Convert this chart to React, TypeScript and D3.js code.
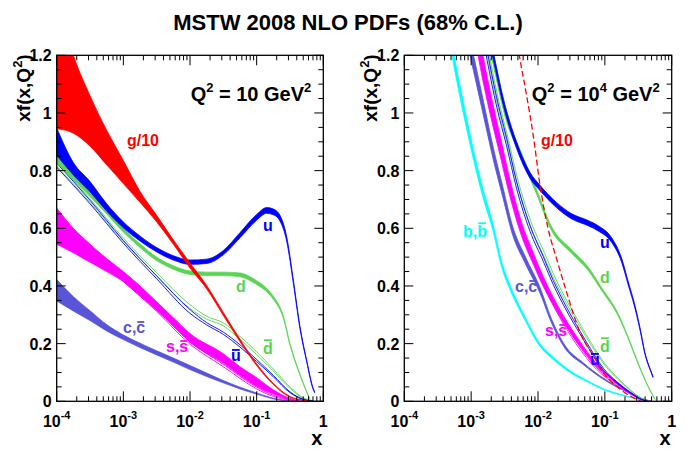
import React from "react";
import * as d3 from "d3";

// ---------------- Q^2 = 10 GeV^2 (left panel) : log10(x), lower, upper ----------------
const gL_lx = [-4, -3.75, -3.5, -3.25, -3, -2.75, -2.5, -2.25, -2, -1.75, -1.5, -1.25, -1, -0.75, -0.5, -0.3, -0.2];
const gL_lo = [0.945, 0.93, 0.885, 0.82, 0.755, 0.69, 0.622, 0.545, 0.462, 0.39, 0.298, 0.207, 0.124, 0.058, 0.014, 0.003, 0];
const gL_hi = [1.4, 1.2, 1.06, 0.94, 0.835, 0.728, 0.645, 0.56, 0.48, 0.402, 0.308, 0.215, 0.13, 0.062, 0.017, 0.004, 0.001];

const uL_lx = [-4, -3.75, -3.5, -3.25, -3, -2.75, -2.5, -2.25, -2, -1.75, -1.5, -1.25, -1, -0.85, -0.75, -0.65, -0.55, -0.45, -0.35, -0.25, -0.15, -0.13];
const uL_lo = [0.853, 0.785, 0.727, 0.66, 0.602, 0.556, 0.518, 0.49, 0.475, 0.478, 0.508, 0.567, 0.628, 0.652, 0.647, 0.625, 0.556, 0.41, 0.252, 0.138, 0.04, 0.03];
const uL_hi = [0.948, 0.828, 0.762, 0.685, 0.622, 0.573, 0.533, 0.505, 0.49, 0.493, 0.523, 0.585, 0.648, 0.672, 0.667, 0.645, 0.572, 0.422, 0.26, 0.143, 0.044, 0.033];

const dL_lx = [-4, -3.75, -3.5, -3.25, -3, -2.75, -2.5, -2.25, -2, -1.75, -1.5, -1.25, -1, -0.85, -0.75, -0.6, -0.5, -0.35, -0.2];
const dL_lo = [0.828, 0.768, 0.71, 0.65, 0.587, 0.533, 0.488, 0.458, 0.44, 0.436, 0.436, 0.432, 0.405, 0.38, 0.354, 0.288, 0.195, 0.09, 0.005];
const dL_hi = [0.855, 0.79, 0.728, 0.665, 0.6, 0.546, 0.5, 0.47, 0.452, 0.448, 0.448, 0.445, 0.418, 0.392, 0.364, 0.296, 0.201, 0.094, 0.007];

const ubarL_lx = [-4, -3.5, -3, -2.5, -2, -1.75, -1.5, -1.25, -1, -0.75, -0.5, -0.3, -0.15];
const ubarL_lo = [0.812, 0.685, 0.548, 0.425, 0.305, 0.265, 0.232, 0.188, 0.138, 0.085, 0.03, 0.006, 0];
const ubarL_hi = [0.826, 0.697, 0.558, 0.435, 0.318, 0.273, 0.24, 0.196, 0.145, 0.09, 0.033, 0.007, 0.001];

const dbarL_lx = [-4, -3.5, -3, -2.5, -2, -1.75, -1.5, -1.25, -1, -0.75, -0.5, -0.3, -0.15];
const dbarL_lo = [0.816, 0.69, 0.555, 0.435, 0.322, 0.285, 0.262, 0.215, 0.162, 0.105, 0.045, 0.01, 0];
const dbarL_hi = [0.83, 0.702, 0.566, 0.446, 0.335, 0.295, 0.272, 0.225, 0.172, 0.112, 0.05, 0.012, 0.001];

const sL_lx = [-4, -3.75, -3.5, -3.25, -3, -2.75, -2.5, -2.25, -2, -1.5, -1.25, -1, -0.75, -0.5, -0.35];
const sL_lo = [0.545, 0.515, 0.482, 0.45, 0.415, 0.365, 0.315, 0.26, 0.205, 0.132, 0.09, 0.052, 0.025, 0.006, 0];
const sL_hi = [0.67, 0.6, 0.545, 0.495, 0.45, 0.4, 0.345, 0.29, 0.235, 0.165, 0.12, 0.082, 0.04, 0.01, 0.001];

const sbarL_lx = [-3, -2.5, -2, -1.5, -1, -0.75, -0.5, -0.35];
const sbarL_lo = [0.415, 0.312, 0.198, 0.12, 0.043, 0.017, 0.004, 0];
const sbarL_hi = [0.425, 0.322, 0.207, 0.128, 0.049, 0.021, 0.006, 0.001];

const cL_lx = [-4, -3.75, -3.5, -3.25, -3, -2.75, -2.5, -2.25, -2, -1.75, -1.5, -1.25, -1, -0.7, -0.45];
const cL_lo = [0.348, 0.313, 0.28, 0.244, 0.214, 0.1865, 0.161, 0.136, 0.11, 0.086, 0.064, 0.043, 0.025, 0.006, 0];
const cL_hi = [0.422, 0.363, 0.314, 0.266, 0.23, 0.2015, 0.175, 0.15, 0.124, 0.098, 0.072, 0.049, 0.029, 0.008, 0.001];

// ---------------- Q^2 = 10^4 GeV^2 (right panel) : log10(x), central, half-width ----------------
const gR_lx = [-2.35, -2.28, -2.17, -2.07, -1.97, -1.85, -1.72, -1.57, -1.37, -1.17, -1.02, -0.77, -0.57, -0.45];
const gR_c = [1.3, 1.2, 1.06, 0.92, 0.75, 0.6, 0.493, 0.377, 0.238, 0.157, 0.099, 0.042, 0.012, 0];

const uR_lx = [-2.8, -2.67, -2.52, -2.32, -2.12, -1.97, -1.72, -1.5, -1.25, -1.1, -0.9, -0.75, -0.65, -0.55, -0.47, -0.4, -0.32, -0.28];
const uR_c = [1.34, 1.2, 1.04, 0.888, 0.784, 0.74, 0.68, 0.642, 0.618, 0.6, 0.56, 0.49, 0.409, 0.328, 0.247, 0.166, 0.109, 0.085];
const uR_e = [0.014, 0.013, 0.012, 0.011, 0.01, 0.009, 0.009, 0.009, 0.009, 0.009, 0.008, 0.007, 0.006, 0.005, 0.004, 0.003, 0.002, 0.002];

const dR_lx = [-2.8, -2.69, -2.47, -2.27, -2.02, -1.8, -1.5, -1.25, -1.05, -0.8, -0.65, -0.5, -0.35, -0.25];
const dR_c = [1.32, 1.2, 0.98, 0.865, 0.726, 0.6, 0.52, 0.46, 0.39, 0.3, 0.22, 0.13, 0.05, 0.007];
const dR_e = [0.012, 0.011, 0.01, 0.009, 0.008, 0.007, 0.006, 0.006, 0.005, 0.004, 0.003, 0.002, 0.001, 0.0005];

const ubarR_lx = [-2.85, -2.76, -2.62, -2.47, -2.32, -2.12, -1.92, -1.77, -1.57, -1.37, -1.22, -1.02, -0.82, -0.62, -0.45, -0.35];
const ubarR_c = [1.32, 1.2, 1.04, 0.9, 0.75, 0.6, 0.493, 0.411, 0.319, 0.238, 0.18, 0.111, 0.065, 0.03, 0.006, 0];
const ubarR_e = [0.02, 0.018, 0.016, 0.014, 0.012, 0.01, 0.008, 0.007, 0.006, 0.005, 0.004, 0.003, 0.002, 0.001, 0.0005, 0];

const dbarR_lx = [-2.83, -2.74, -2.6, -2.45, -2.3, -2.1, -1.9, -1.75, -1.55, -1.35, -1.2, -1.0, -0.8, -0.6, -0.45, -0.33];
const dbarR_c = [1.32, 1.2, 1.04, 0.9, 0.755, 0.61, 0.505, 0.425, 0.335, 0.255, 0.197, 0.128, 0.077, 0.035, 0.01, 0];
const dbarR_e = [0.02, 0.018, 0.016, 0.014, 0.012, 0.01, 0.008, 0.007, 0.006, 0.005, 0.004, 0.003, 0.002, 0.001, 0.0005, 0];

const sR_lx = [-2.95, -2.86, -2.72, -2.57, -2.42, -2.25, -2.07, -1.92, -1.72, -1.42, -1.12, -0.82, -0.57, -0.42, -0.3];
const sR_c = [1.32, 1.2, 1.04, 0.89, 0.74, 0.6, 0.495, 0.415, 0.325, 0.215, 0.125, 0.065, 0.024, 0.005, 0];
const sR_e = [0.05, 0.046, 0.04, 0.035, 0.03, 0.024, 0.02, 0.017, 0.013, 0.009, 0.005, 0.003, 0.001, 0.0005, 0];

const sbarR_lx = [-2.0, -1.72, -1.42, -1.12, -0.82, -0.57, -0.42];
const sbarR_c = [0.45, 0.315, 0.2, 0.113, 0.057, 0.02, 0.004];
const sbarR_e = [0.006, 0.005, 0.004, 0.003, 0.002, 0.001, 0.0005];

const cR_lx = [-3.1, -2.99, -2.82, -2.67, -2.52, -2.39, -2.18, -1.97, -1.8, -1.6, -1.32, -1.0, -0.62, -0.43, -0.3];
const cR_c = [1.32, 1.2, 1.02, 0.86, 0.72, 0.6, 0.485, 0.385, 0.28, 0.19, 0.13, 0.075, 0.028, 0.008, 0];
const cR_e = [0.03, 0.028, 0.025, 0.021, 0.018, 0.015, 0.012, 0.01, 0.007, 0.005, 0.003, 0.002, 0.001, 0.0005, 0];

const bR_lx = [-3.4, -3.27, -3.1, -2.97, -2.82, -2.67, -2.55, -2.4, -2.2, -2.0, -1.75, -1.5, -1.25, -1.0, -0.75, -0.5, -0.35];
const bR_c = [1.38, 1.2, 1.0, 0.86, 0.72, 0.6, 0.48, 0.385, 0.29, 0.205, 0.145, 0.1, 0.068, 0.04, 0.022, 0.008, 0];
const bR_e = [0.025, 0.022, 0.02, 0.017, 0.015, 0.012, 0.01, 0.008, 0.006, 0.005, 0.004, 0.003, 0.002, 0.0015, 0.001, 0.0005, 0];

// ---------------- axis ----------------
const xMajorExp = [-4, -3, -2, -1, 0];
const yMajor = [0, 0.2, 0.4, 0.6, 0.8, 1, 1.2];

const RED = "#ff0000", BLUE = "#0000ff", GREEN = "#59d454", MAG = "#ff00ff", SLATE = "#5954d8", CYAN = "#00ffff";
const FONT = "'Liberation Sans', Arial, Helvetica, sans-serif";
const Y0 = 55.3, Y1 = 401.3;

type P = { x: number; lo: number; hi: number };
const fromLoHi = (lx: number[], lo: number[], hi: number[]): P[] => lx.map((l, i) => ({ x: Math.pow(10, l), lo: lo[i], hi: hi[i] }));
const fromCE = (lx: number[], c: number[], e: number[]): P[] => lx.map((l, i) => ({ x: Math.pow(10, l), lo: c[i] - e[i], hi: c[i] + e[i] }));

type BandSpec = { pts: P[]; color: string; kind: "fill" | "outline" | "dash" };
type LabelSpec = { t: string; x: number; y: number; c: string; bars: number[] };

const CW: Record<string, number> = { c: 0.556, s: 0.556, b: 0.611, u: 0.611, d: 0.611, ",": 0.278, g: 0.611, "/": 0.278, "1": 0.556, "0": 0.556 };

function Label({ l }: { l: LabelSpec }) {
  const fs = 16;
  let pos = 0;
  const bars: React.ReactNode[] = [];
  for (let i = 0; i < l.t.length; i++) {
    const ch = l.t[i];
    const w = (CW[ch] ?? 0.556) * fs;
    if (l.bars.includes(i)) {
      const tall = ch === "d" || ch === "b";
      const yy = l.y - (tall ? 0.86 : 0.69) * fs;
      bars.push(<line key={i} x1={l.x + pos + 1} x2={l.x + pos + w - 1} y1={yy} y2={yy} stroke={l.c} strokeWidth={1.8} />);
    }
    pos += w;
  }
  return (
    <g>
      <text x={l.x} y={l.y} fill={l.c} fontFamily={FONT} fontWeight="bold" fontSize={fs}>{l.t}</text>
      {bars}
    </g>
  );
}

function Panel({ x0, x1, bands, labels, qExp, id }: { x0: number; x1: number; bands: BandSpec[]; labels: LabelSpec[]; qExp: string | null; id: string }) {
  const xs = d3.scaleLog().domain([1e-4, 1]).range([x0, x1]);
  const ys = d3.scaleLinear().domain([0, 1.2]).range([Y1, Y0]);
  const curve = d3.curveMonotoneX;
  const area = d3.area<P>().x((d) => xs(d.x)).y0((d) => ys(d.lo)).y1((d) => ys(d.hi)).curve(curve);
  const lineLo = d3.line<P>().x((d) => xs(d.x)).y((d) => ys(d.lo)).curve(curve);
  const lineHi = d3.line<P>().x((d) => xs(d.x)).y((d) => ys(d.hi)).curve(curve);
  const lineC = d3.line<P>().x((d) => xs(d.x)).y((d) => ys((d.lo + d.hi) / 2)).curve(curve);

  const minorX: number[] = [];
  for (let e = -4; e < 0; e++) for (let k = 2; k <= 9; k++) minorX.push(k * Math.pow(10, e));
  const yMinor = ys.ticks(24).filter((v) => !yMajor.some((m) => Math.abs(m - v) < 1e-6));

  const ticks: React.ReactNode[] = [];
  xMajorExp.forEach((e, i) => {
    const X = xs(Math.pow(10, e));
    ticks.push(<line key={"xm" + i} x1={X} x2={X} y1={Y1} y2={Y1 - 10} />);
    ticks.push(<line key={"xmt" + i} x1={X} x2={X} y1={Y0} y2={Y0 + 10} />);
  });
  minorX.forEach((v, i) => {
    const X = xs(v);
    ticks.push(<line key={"xn" + i} x1={X} x2={X} y1={Y1} y2={Y1 - 5} />);
    ticks.push(<line key={"xnt" + i} x1={X} x2={X} y1={Y0} y2={Y0 + 5} />);
  });
  yMajor.forEach((v, i) => {
    const Y = ys(v);
    ticks.push(<line key={"ym" + i} x1={x0} x2={x0 + 9} y1={Y} y2={Y} />);
    ticks.push(<line key={"ymr" + i} x1={x1} x2={x1 - 9} y1={Y} y2={Y} />);
  });
  yMinor.forEach((v, i) => {
    const Y = ys(v);
    ticks.push(<line key={"yn" + i} x1={x0} x2={x0 + 5} y1={Y} y2={Y} />);
    ticks.push(<line key={"ynr" + i} x1={x1} x2={x1 - 5} y1={Y} y2={Y} />);
  });

  return (
    <g>
      <defs>
        <clipPath id={id}>
          <rect x={x0} y={Y0} width={x1 - x0} height={Y1 - Y0} />
        </clipPath>
      </defs>
      <g clipPath={`url(#${id})`}>
        {bands.map((b, i) =>
          b.kind === "fill" ? (
            <path key={i} d={area(b.pts) || ""} fill={b.color} stroke={b.color} strokeWidth={0.8} />
          ) : b.kind === "outline" ? (
            <g key={i}>
              <path d={lineLo(b.pts) || ""} fill="none" stroke={b.color} strokeWidth={0.9} />
              <path d={lineHi(b.pts) || ""} fill="none" stroke={b.color} strokeWidth={0.9} />
            </g>
          ) : (
            <path key={i} d={lineC(b.pts) || ""} fill="none" stroke={b.color} strokeWidth={1.3} strokeDasharray="6,3" />
          )
        )}
      </g>
      <g stroke="#000" strokeWidth={1}>{ticks}</g>
      <rect x={x0} y={Y0} width={x1 - x0} height={Y1 - Y0} fill="none" stroke="#000" strokeWidth={1.3} />
      {yMajor.map((v, i) => (
        <text key={"yl" + i} x={x0 - 5} y={ys(v) + 6} textAnchor="end" fontFamily={FONT} fontWeight="bold" fontSize={16}>
          {String(v)}
        </text>
      ))}
      {xMajorExp.map((e, i) => (
        <text key={"xl" + i} x={xs(Math.pow(10, e))} y={427} textAnchor="middle" fontFamily={FONT} fontWeight="bold" fontSize={16}>
          {e === 0 ? "1" : (
            <>
              <tspan>10</tspan>
              <tspan dy={-8} fontSize={11}>{String(e)}</tspan>
            </>
          )}
        </text>
      ))}
      <text x={x1 - 1} y={445} textAnchor="end" fontFamily={FONT} fontWeight="bold" fontSize={20}>x</text>
      <text transform={`translate(${x0 - 27},${Y0 - 1}) rotate(-90)`} textAnchor="end" fontFamily={FONT} fontWeight="bold" fontSize={19}>
        <tspan>xf(x,Q</tspan>
        <tspan dy={-8} fontSize={13}>2</tspan>
        <tspan dy={8}>)</tspan>
      </text>
      <text x={x1 - 12} y={101} textAnchor="end" fontFamily={FONT} fontWeight="bold" fontSize={20}>
        <tspan>Q</tspan>
        <tspan dy={-9} fontSize={13}>2</tspan>
        <tspan dy={9}> = 10</tspan>
        {qExp ? <tspan dy={-9} fontSize={13}>{qExp}</tspan> : null}
        <tspan dy={qExp ? 9 : 0}> GeV</tspan>
        <tspan dy={-9} fontSize={13}>2</tspan>
      </text>
      {labels.map((l, i) => (
        <Label key={i} l={l} />
      ))}
    </g>
  );
}

export default function App() {
  const leftBands: BandSpec[] = [
    { pts: fromLoHi(cL_lx, cL_lo, cL_hi), color: SLATE, kind: "fill" },
    { pts: fromLoHi(sL_lx, sL_lo, sL_hi), color: MAG, kind: "fill" },
    { pts: fromLoHi(sbarL_lx, sbarL_lo, sbarL_hi), color: MAG, kind: "outline" },
    { pts: fromLoHi(dbarL_lx, dbarL_lo, dbarL_hi), color: GREEN, kind: "outline" },
    { pts: fromLoHi(ubarL_lx, ubarL_lo, ubarL_hi), color: BLUE, kind: "outline" },
    { pts: fromLoHi(dL_lx, dL_lo, dL_hi), color: GREEN, kind: "fill" },
    { pts: fromLoHi(uL_lx, uL_lo, uL_hi), color: BLUE, kind: "fill" },
    { pts: fromLoHi(gL_lx, gL_lo, gL_hi), color: RED, kind: "fill" },
  ];
  const rightBands: BandSpec[] = [
    { pts: fromCE(bR_lx, bR_c, bR_e), color: CYAN, kind: "fill" },
    { pts: fromCE(cR_lx, cR_c, cR_e), color: SLATE, kind: "fill" },
    { pts: fromCE(sR_lx, sR_c, sR_e), color: MAG, kind: "fill" },
    { pts: fromCE(sbarR_lx, sbarR_c, sbarR_e), color: MAG, kind: "outline" },
    { pts: fromCE(dbarR_lx, dbarR_c, dbarR_e), color: GREEN, kind: "outline" },
    { pts: fromCE(ubarR_lx, ubarR_c, ubarR_e), color: BLUE, kind: "outline" },
    { pts: fromCE(dR_lx, dR_c, dR_e), color: GREEN, kind: "fill" },
    { pts: fromCE(uR_lx, uR_c, uR_e), color: BLUE, kind: "fill" },
    { pts: fromCE(gR_lx, gR_c, gR_c.map(() => 0)), color: RED, kind: "dash" },
  ];
  const leftLabels: LabelSpec[] = [
    { t: "g/10", x: 127, y: 146, c: RED, bars: [] },
    { t: "u", x: 263, y: 231, c: BLUE, bars: [] },
    { t: "d", x: 236, y: 292, c: GREEN, bars: [] },
    { t: "d", x: 263, y: 354, c: GREEN, bars: [0] },
    { t: "u", x: 231, y: 361, c: BLUE, bars: [0] },
    { t: "s,s", x: 166, y: 352, c: MAG, bars: [2] },
    { t: "c,c", x: 123, y: 333, c: SLATE, bars: [2] },
  ];
  const rightLabels: LabelSpec[] = [
    { t: "g/10", x: 541, y: 146, c: RED, bars: [] },
    { t: "u", x: 600, y: 248, c: BLUE, bars: [] },
    { t: "d", x: 600, y: 283, c: GREEN, bars: [] },
    { t: "d", x: 600, y: 352, c: GREEN, bars: [0] },
    { t: "u", x: 590, y: 365, c: BLUE, bars: [0] },
    { t: "s,s", x: 545, y: 336, c: MAG, bars: [2] },
    { t: "c,c", x: 515, y: 292, c: SLATE, bars: [2] },
    { t: "b,b", x: 463, y: 237, c: CYAN, bars: [2] },
  ];
  return (
    <svg width={696} height={468} style={{ position: "absolute", left: 0, top: 0, background: "#fff" }}>
      <rect x={0} y={0} width={696} height={468} fill="#fff" />
      <text x={348} y={30} textAnchor="middle" fontFamily={FONT} fontWeight="bold" fontSize={22}>
        MSTW 2008 NLO PDFs (68% C.L.)
      </text>
      <Panel x0={56.7} x1={323.3} bands={leftBands} labels={leftLabels} qExp={null} id="clipL" />
      <Panel x0={404.3} x1={671.7} bands={rightBands} labels={rightLabels} qExp={"4"} id="clipR" />
    </svg>
  );
}
